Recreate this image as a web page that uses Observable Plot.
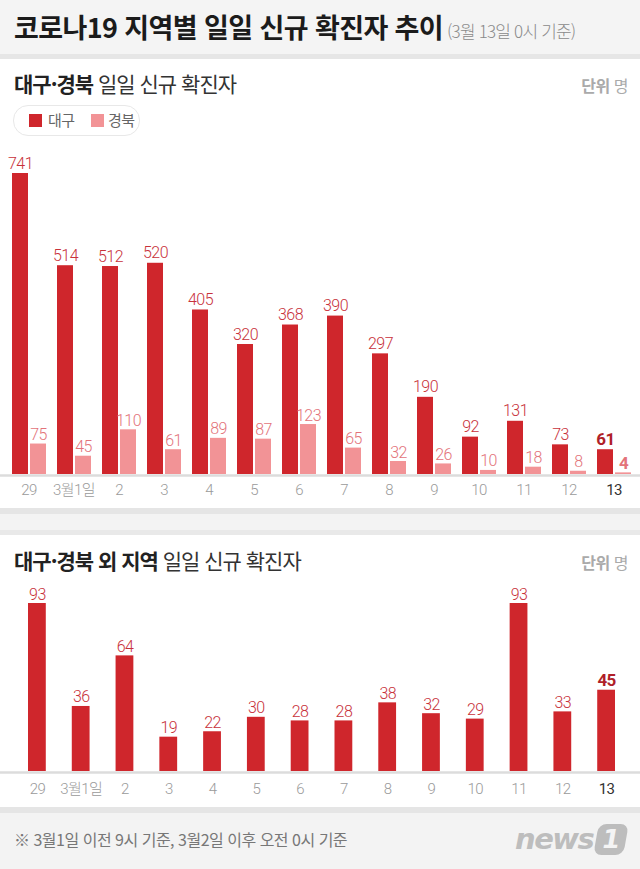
<!DOCTYPE html>
<html lang="ko">
<head>
<meta charset="utf-8">
<script src="https://cdn.jsdelivr.net/npm/d3@7"></script>
<script src="https://cdn.jsdelivr.net/npm/@observablehq/plot@0.6"></script>
<style>
  html, body { margin: 0; padding: 0; background: #fff; }
  #page { position: relative; width: 640px; height: 869px; overflow: hidden; background: #fff;
          font-family: "Noto Sans CJK KR", "Noto Sans", sans-serif; }
  .abs { position: absolute; }
  #header { left: 0; top: 0; width: 640px; height: 54px; background: #f4f4f4; border-bottom: 5px solid #e6e6e6; }
  #title { left: 14px; top: 10px; font-size: 27px; font-weight: 700; color: #1b1b1b; letter-spacing: -0.6px; white-space: nowrap; line-height: 34px; }
  #title small { font-size: 17px; font-weight: 300; color: #8a8a8a; letter-spacing: -0.8px; margin-left: 4px; }
  .sub { left: 14px; font-size: 21px; color: #333; letter-spacing: -1px; white-space: nowrap; line-height: 26px; }
  .sub b { color: #222; font-weight: 700; }
  .unit { right: 12px; font-size: 16px; color: #aaa; letter-spacing: -0.5px; white-space: nowrap; line-height: 22px; }
  .unit b { font-weight: 700; }
  #legend { left: 13px; top: 105px; width: 125px; height: 29px; border: 1.5px solid #e8e8e8; border-radius: 15px; }
  .sw { position: absolute; top: 8px; width: 13px; height: 13px; }
  .lt { position: absolute; top: 2px; font-size: 15px; color: #666; line-height: 24px; letter-spacing: -0.5px; }
  .band1 { left: 0; width: 640px; }
  #note { left: 14px; top: 828px; font-size: 16px; color: #777; letter-spacing: -0.5px; white-space: nowrap; line-height: 22px; }
  #logo { left: 515px; top: 822px; white-space: nowrap; }
  #logo .n { font-family: "DejaVu Sans", sans-serif; font-weight: 700; font-style: italic; font-size: 29px; color: #bdbdbd; letter-spacing: -1.5px; vertical-align: middle; }
  #logo .one { display: inline-block; width: 30px; height: 31px; background: #bdbdbd; border-radius: 8px; transform: skewX(-10deg);
               color: #f4f4f4; font-family: "DejaVu Sans", sans-serif; font-weight: 700; font-size: 26px; line-height: 31px; text-align: center; vertical-align: middle; margin-left: 3px; }
</style>
</head>
<body>
<div id="page"></div>
<script>
// ---------- data ----------
const dates = ["29", "3월1일", "2", "3", "4", "5", "6", "7", "8", "9", "10", "11", "12", "13"];
const daegu = [741, 514, 512, 520, 405, 320, 368, 390, 297, 190, 92, 131, 73, 61];
const gyeongbuk = [75, 45, 110, 61, 89, 87, 123, 65, 32, 26, 10, 18, 8, 4];
const others = [93, 36, 64, 19, 22, 30, 28, 28, 38, 32, 29, 93, 33, 45];
const seriesNames = ["대구", "경북"];
const seriesColors = ["#cf262c", "#f29396"];

const numFont = "Roboto, 'Noto Sans CJK KR', sans-serif";
const lastDate = dates[dates.length - 1];

const rows1 = dates.map((d, i) => ({date: d, daegu: daegu[i], gb: gyeongbuk[i], last: d === lastDate}));
const rows2 = dates.map((d, i) => ({date: d, value: others[i], last: d === lastDate}));

const page = document.getElementById("page");
function el(html) { const t = document.createElement("template"); t.innerHTML = html.trim(); const n = t.content.firstChild; page.appendChild(n); return n; }

// ---------- header & static text ----------
el(`<div id="header" class="abs"></div>`);
el(`<div id="title" class="abs">코로나19 지역별 일일 신규 확진자 추이<small>(3월 13일 0시 기준)</small></div>`);
el(`<div class="abs sub" style="top:70px"><b>대구·경북</b> 일일 신규 확진자</div>`);
el(`<div class="abs unit" style="top:74px"><b>단위</b> 명</div>`);

// legend
const leg = el(`<div id="legend" class="abs"></div>`);
const swX = [15, 77], txX = [34, 94];
seriesNames.forEach((name, i) => {
  const s = document.createElement("div"); s.className = "sw"; s.style.left = swX[i] + "px"; s.style.background = seriesColors[i]; leg.appendChild(s);
  const t = document.createElement("div"); t.className = "lt"; t.style.left = txX[i] + "px"; t.textContent = name; leg.appendChild(t);
});

// separator bands
el(`<div class="abs band1" style="top:508px;height:6px;background:#e5e5e5"></div>`);
el(`<div class="abs band1" style="top:514px;height:16px;background:#f3f3f3"></div>`);
el(`<div class="abs band1" style="top:530px;height:5px;background:#e9e9e9"></div>`);
el(`<div class="abs sub" style="top:547px"><b>대구·경북 외 지역</b> 일일 신규 확진자</div>`);
el(`<div class="abs unit" style="top:551px"><b>단위</b> 명</div>`);

// footer
el(`<div class="abs band1" style="top:807px;height:6px;background:#e5e5e5"></div>`);
el(`<div class="abs band1" style="top:813px;height:56px;background:#f3f3f3"></div>`);
el(`<div id="note" class="abs">※ 3월1일 이전 9시 기준, 3월2일 이후 오전 0시 기준</div>`);
el(`<div id="logo" class="abs"><span class="n">news</span><span class="one">1</span></div>`);

const svgStyle = {background: "transparent", fontFamily: numFont, overflow: "visible", letterSpacing: "-0.6px"};

// ---------- chart 1 ----------
const chart1 = Plot.plot({
  width: 640, height: 365,
  marginTop: 33, marginBottom: 31, marginLeft: 0, marginRight: 0,
  style: svgStyle,
  x: {type: "band", domain: dates, range: [7, 637], padding: 0, round: false, axis: null},
  y: {domain: [0, d3.max(daegu)], axis: null},
  marks: [
    Plot.ruleY([0], {stroke: "#dcdcdc", strokeWidth: 2.5, dy: 1}),
    Plot.barY(rows1, {x: "date", y: "daegu", fill: seriesColors[0], insetLeft: 5, insetRight: 24}),
    Plot.barY(rows1, {x: "date", y: "gb", fill: seriesColors[1], insetLeft: 23, insetRight: 6}),
    Plot.text(rows1.filter(d => !d.last), {x: "date", y: "daegu", text: d => String(d.daegu), dx: -9.5, dy: -5, lineAnchor: "bottom", fill: "#c8313a", fontSize: 16, fontWeight: 300}),
    Plot.text(rows1.filter(d => d.last), {x: "date", y: "daegu", text: d => String(d.daegu), dx: -9.5, dy: -5, lineAnchor: "bottom", fill: "#b01f29", fontSize: 17, fontWeight: 700}),
    Plot.text(rows1.filter(d => !d.last), {x: "date", y: "gb", text: d => String(d.gb), dx: 8.5, dy: -4, lineAnchor: "bottom", fill: "#e3737a", fontSize: 16, fontWeight: 300}),
    Plot.text(rows1.filter(d => d.last), {x: "date", y: "gb", text: d => String(d.gb), dx: 8.5, dy: -4, lineAnchor: "bottom", fill: "#e3737a", fontSize: 17, fontWeight: 700}),
    Plot.text(rows1.filter(d => !d.last), {x: "date", text: "date", frameAnchor: "bottom", dx: -1, dy: 16, lineAnchor: "middle", fill: "#9a9a9a", fontSize: 15, fontWeight: 300}),
    Plot.text(rows1.filter(d => d.last), {x: "date", text: "date", frameAnchor: "bottom", dx: -1, dy: 16, lineAnchor: "middle", fill: "#333", fontSize: 15})
  ]
});
chart1.style.position = "absolute"; chart1.style.left = "0px"; chart1.style.top = "140px";
page.appendChild(chart1);

// ---------- chart 2 ----------
const chart2 = Plot.plot({
  width: 640, height: 230,
  marginTop: 28, marginBottom: 34, marginLeft: 0, marginRight: 0,
  style: svgStyle,
  x: {type: "band", domain: dates, range: [15, 628], padding: 0, round: false, axis: null},
  y: {domain: [0, d3.max(others)], axis: null},
  marks: [
    Plot.ruleY([0], {stroke: "#dcdcdc", strokeWidth: 2.5, dy: 1}),
    Plot.barY(rows2, {x: "date", y: "value", fill: seriesColors[0], insetLeft: 13, insetRight: 13}),
    Plot.text(rows2.filter(d => !d.last), {x: "date", y: "value", text: d => String(d.value), dy: -4, lineAnchor: "bottom", fill: "#c8313a", fontSize: 16, fontWeight: 300}),
    Plot.text(rows2.filter(d => d.last), {x: "date", y: "value", text: d => String(d.value), dy: -4, lineAnchor: "bottom", fill: "#b01f29", fontSize: 17, fontWeight: 700}),
    Plot.text(rows2.filter(d => !d.last), {x: "date", text: "date", frameAnchor: "bottom", dy: 18, lineAnchor: "middle", fill: "#9a9a9a", fontSize: 15, fontWeight: 300}),
    Plot.text(rows2.filter(d => d.last), {x: "date", text: "date", frameAnchor: "bottom", dy: 18, lineAnchor: "middle", fill: "#333", fontSize: 15})
  ]
});
chart2.style.position = "absolute"; chart2.style.left = "0px"; chart2.style.top = "575px";
page.appendChild(chart2);
</script>
</body>
</html>
